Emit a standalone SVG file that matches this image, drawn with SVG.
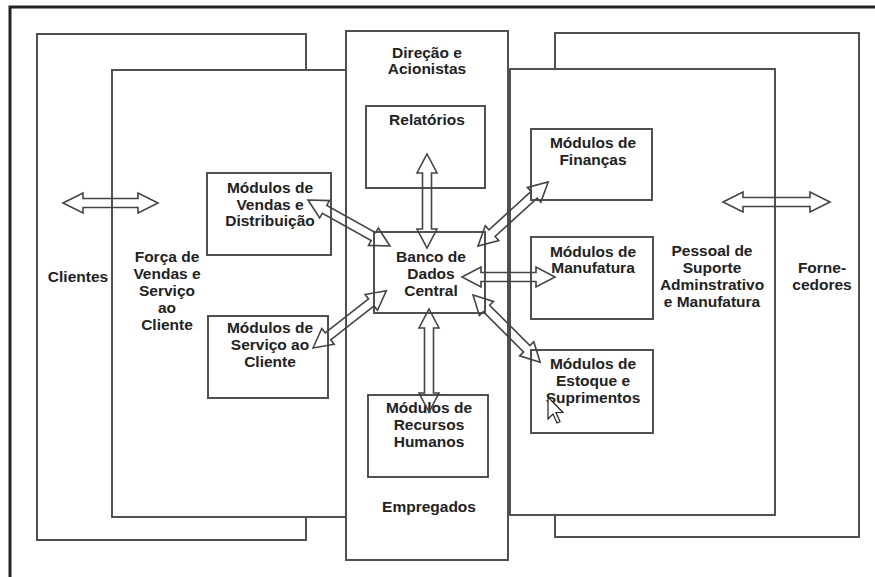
<svg xmlns="http://www.w3.org/2000/svg" width="875" height="577" viewBox="0 0 875 577">
<style>
.bg{fill:#fff;stroke:#505050;stroke-width:2}
.box{fill:#fff;stroke:#505050;stroke-width:2}
.arr{fill:none;stroke:#444;stroke-width:1.6;stroke-linejoin:miter}
text{font-family:"Liberation Sans",Arial,sans-serif;font-weight:bold;font-size:15.5px;fill:#222;text-anchor:middle}
</style>
<rect width="875" height="577" fill="#fff"/>
<path d="M10,577 V7 H875" fill="none" stroke="#222" stroke-width="3"/>
<g id="clientes">
<rect class="bg" x="37" y="34" width="269" height="506"/>
<text x="78" y="282">Clientes</text>
</g>
<g id="fornecedores">
<rect class="bg" x="555" y="33" width="304" height="504"/>
<text x="822" y="273">Forne-</text>
<text x="822" y="290">cedores</text>
</g>
<g id="forca-vendas">
<rect class="bg" x="112" y="70" width="234" height="447"/>
<text x="167" y="262">Força de</text>
<text x="167" y="279">Vendas e</text>
<text x="167" y="296">Serviço</text>
<text x="167" y="313">ao</text>
<text x="167" y="330">Cliente</text>
</g>
<g id="pessoal-suporte">
<rect class="bg" x="510" y="69" width="265" height="446"/>
<text x="712" y="256">Pessoal de</text>
<text x="712" y="273">Suporte</text>
<text x="712" y="290">Adminstrativo</text>
<text x="712" y="307">e Manufatura</text>
</g>
<g id="direcao-empregados">
<rect class="bg" x="346" y="31" width="162" height="529"/>
<text x="427" y="58">Direção e</text>
<text x="427" y="74">Acionistas</text>
<text x="429" y="512">Empregados</text>
</g>
<g id="relatorios">
<rect class="box" x="366" y="106" width="119" height="82"/>
<text x="427" y="125">Relatórios</text>
</g>
<g id="vendas-distribuicao">
<rect class="box" x="207" y="173" width="124" height="82"/>
<text x="270" y="193">Módulos de</text>
<text x="270" y="210">Vendas e</text>
<text x="270" y="226">Distribuição</text>
</g>
<g id="servico-cliente">
<rect class="box" x="208" y="316" width="120" height="82"/>
<text x="270" y="333">Módulos de</text>
<text x="270" y="350">Serviço ao</text>
<text x="270" y="367">Cliente</text>
</g>
<g id="banco-dados">
<rect class="box" x="374" y="232" width="111" height="81"/>
<text x="431" y="262">Banco de</text>
<text x="431" y="279">Dados</text>
<text x="431" y="296">Central</text>
</g>
<g id="recursos-humanos">
<rect class="box" x="368" y="395" width="120" height="82"/>
<text x="429" y="413">Módulos de</text>
<text x="429" y="430">Recursos</text>
<text x="429" y="447">Humanos</text>
</g>
<g id="financas">
<rect class="box" x="531" y="129" width="121" height="71"/>
<text x="593" y="148">Módulos de</text>
<text x="593" y="165">Finanças</text>
</g>
<g id="manufatura">
<rect class="box" x="531" y="237" width="122" height="82"/>
<text x="593" y="257">Módulos de</text>
<text x="593" y="273">Manufatura</text>
</g>
<g id="estoque">
<rect class="box" x="531" y="350" width="122" height="83"/>
<text x="593" y="369">Módulos de</text>
<text x="593" y="386">Estoque e</text>
<text x="593" y="403">Suprimentos</text>
</g>
<g id="connectors">
<path class="arr" d="M63,203 l20,-10 v5.5 h55 v-5.5 l20,10 l-20,10 v-5.5 h-55 v5.5 Z"/>
<path class="arr" d="M723,202 l20,-10 v5.5 h67 v-5.5 l20,10 l-20,10 v-5.5 h-67 v5.5 Z"/>
<g transform="translate(427,154) rotate(90)"><path class="arr" d="M0,0 L19,-10 L19,-4.5 L75,-4.5 L75,-10 L94,0 L75,10 L75,4.5 L19,4.5 L19,10 Z"/></g>
<g transform="translate(429,309) rotate(90)"><path class="arr" d="M0,0 L19,-10 L19,-4.5 L84,-4.5 L84,-10 L103,0 L84,10 L84,4.5 L19,4.5 L19,10 Z"/></g>
<g transform="translate(308,200) rotate(29.3)"><path class="arr" d="M0,0 L19,-10 L19,-4.5 L75,-4.5 L75,-10 L94,0 L75,10 L75,4.5 L19,4.5 L19,10 Z"/></g>
<g transform="translate(478,246) rotate(-42.4)"><path class="arr" d="M0,0 L19,-10 L19,-4.5 L76,-4.5 L76,-10 L95,0 L76,10 L76,4.5 L19,4.5 L19,10 Z"/></g>
<g transform="translate(462,277)"><path class="arr" d="M0,0 L19,-10 L19,-4.5 L74,-4.5 L74,-10 L93,0 L74,10 L74,4.5 L19,4.5 L19,10 Z"/></g>
<g transform="translate(313,348) rotate(-38)"><path class="arr" d="M0,0 L19,-10 L19,-4.5 L74,-4.5 L74,-10 L93,0 L74,10 L74,4.5 L19,4.5 L19,10 Z"/></g>
<g transform="translate(473,295) rotate(45)"><path class="arr" d="M0,0 L19,-10 L19,-4.5 L76,-4.5 L76,-10 L95,0 L76,10 L76,4.5 L19,4.5 L19,10 Z"/></g>
</g>
<path d="M548,397 l0,22 l5,-5 l4,9 l3,-1.5 l-4,-9 l7,0 Z" fill="#fff" stroke="#222" stroke-width="1.2" stroke-linejoin="miter"/>
</svg>
